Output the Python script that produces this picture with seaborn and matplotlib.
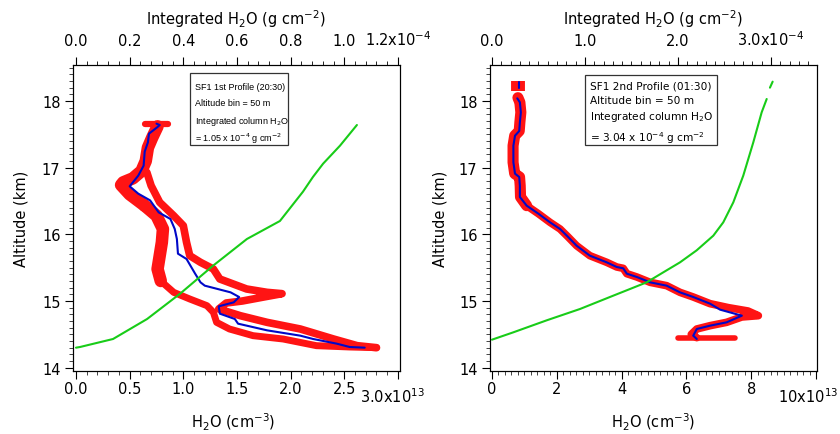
import numpy as np
import pandas as pd
import matplotlib
matplotlib.use("Agg")
import matplotlib.pyplot as plt
import seaborn as sns
from matplotlib.ticker import MultipleLocator
from matplotlib.patches import Rectangle

# ---------------- data (H2O in 1e13 cm^-3, integrated in 1e-4 g cm^-2, altitude in km) ----------------
# Profile 1 : binned mean (blue)
p1_blue_x = [0.75, 0.78, 0.76, 0.68, 0.67, 0.64, 0.63, 0.58, 0.52, 0.50, 0.58, 0.69, 0.77, 0.88, 0.92,
             0.94, 0.95, 1.03, 1.11, 1.16, 1.20, 1.44, 1.52, 1.47, 1.33, 1.34, 1.48, 1.51, 1.78, 2.09,
             2.21, 2.43, 2.55, 2.69]
p1_blue_alt = [17.66, 17.64, 17.61, 17.51, 17.38, 17.24, 17.03, 16.88, 16.76, 16.72, 16.61, 16.51, 16.33,
               16.23, 16.08, 15.93, 15.71, 15.63, 15.41, 15.28, 15.23, 15.13, 15.06, 14.98, 14.92, 14.81,
               14.73, 14.66, 14.56, 14.48, 14.43, 14.36, 14.31, 14.30]
# Profile 1 : raw measurements (red), read as traces
p1_red_top_x = [0.64, 0.86]
p1_red_top_alt = [17.66, 17.66]
p1_red_upper_x = [0.76, 0.71, 0.67, 0.65, 0.61, 0.53, 0.44, 0.42, 0.50, 0.64]
p1_red_upper_alt = [17.62, 17.45, 17.30, 17.10, 16.95, 16.84, 16.78, 16.74, 16.60, 16.43]
p1_red_left_x = [0.64, 0.75, 0.81, 0.80, 0.78, 0.76, 0.79]
p1_red_left_alt = [16.43, 16.28, 16.08, 15.88, 15.68, 15.48, 15.30]
p1_red_lower_x = [0.79, 0.91, 1.06, 1.22, 1.28, 1.31, 1.43, 1.65, 1.93, 2.24, 2.55, 2.80]
p1_red_lower_alt = [15.30, 15.13, 15.03, 14.93, 14.83, 14.68, 14.58, 14.48, 14.43, 14.33, 14.31, 14.30]
p1_red_right_x = [0.66, 0.70, 0.78, 0.91, 1.00, 1.03, 1.06, 1.16, 1.28, 1.34, 1.59, 1.78, 1.92, 1.75,
                  1.55, 1.40, 1.33, 1.53, 1.78, 2.09, 2.40, 2.62, 2.80]
p1_red_right_alt = [16.93, 16.73, 16.48, 16.28, 16.13, 15.88, 15.68, 15.58, 15.48, 15.33, 15.18, 15.13,
                    15.11, 15.06, 15.00, 14.97, 14.88, 14.78, 14.68, 14.58, 14.43, 14.33, 14.30]
# Profile 1 : integrated column (green, top axis)
p1_int_x = [0.0, 0.015, 0.138, 0.265, 0.388, 0.511, 0.637, 0.760, 0.846, 0.883, 0.921, 0.984, 1.047]
p1_int_alt = [14.30, 14.31, 14.43, 14.73, 15.11, 15.53, 15.93, 16.20, 16.64, 16.86, 17.06, 17.33, 17.64]

# Profile 2 : binned mean (blue)
p2_blue_top_x = [0.83, 0.83]
p2_blue_top_alt = [18.28, 18.20]
p2_blue_x = [0.78, 0.86, 0.89, 0.86, 0.84, 0.71, 0.66, 0.66, 0.71, 0.84, 0.86, 0.86, 1.07, 1.43, 1.79,
             2.10, 2.35, 2.61, 3.02, 3.54, 3.85, 4.05, 4.16, 4.47, 4.88, 5.39, 5.80, 6.21, 6.73, 7.04,
             7.71, 7.24, 6.73, 6.32, 6.21, 6.32]
p2_blue_alt = [18.04, 17.98, 17.83, 17.68, 17.55, 17.48, 17.33, 17.08, 16.91, 16.86, 16.73, 16.56, 16.43,
               16.31, 16.18, 16.08, 15.96, 15.83, 15.68, 15.58, 15.51, 15.49, 15.41, 15.36, 15.28, 15.23,
               15.13, 15.06, 14.96, 14.87, 14.78, 14.68, 14.63, 14.58, 14.48, 14.43]
# Profile 2 : raw measurements (red)
p2_red_top_x = [0.80, 0.80]
p2_red_top_alt = [18.30, 18.15]
p2_red_upper_x = [0.80, 0.86, 0.89, 0.86, 0.84, 0.70, 0.65, 0.65, 0.70, 0.85, 0.87, 0.88, 1.07]
p2_red_upper_alt = [18.05, 17.98, 17.83, 17.68, 17.55, 17.48, 17.33, 17.08, 16.91, 16.86, 16.73, 16.56,
                    16.43]
p2_red_lower_x = [1.07, 1.43, 1.79, 2.10, 2.35, 2.61, 3.02, 3.54, 3.85, 4.05, 4.16, 4.47, 4.88, 5.39,
                  5.80, 6.21, 6.73, 7.30, 7.90, 8.22, 7.71, 7.24, 6.73, 6.32, 6.15, 6.21, 6.32]
p2_red_lower_alt = [16.43, 16.31, 16.18, 16.08, 15.96, 15.83, 15.68, 15.58, 15.51, 15.49, 15.41, 15.36,
                    15.28, 15.23, 15.13, 15.06, 14.96, 14.90, 14.85, 14.78, 14.76, 14.68, 14.63, 14.58,
                    14.50, 14.48, 14.45]
p2_red_bot_x = [5.75, 7.50]
p2_red_bot_alt = [14.44, 14.44]
# Profile 2 : integrated column (green, top axis)
p2_int_x = [0.0, 0.229, 0.588, 0.946, 1.304, 1.484, 1.663, 1.842, 2.022, 2.201, 2.380, 2.487, 2.595,
            2.702, 2.810, 2.900, 2.954]
p2_int_alt = [14.42, 14.53, 14.71, 14.88, 15.08, 15.18, 15.28, 15.43, 15.58, 15.76, 15.98, 16.18, 16.48,
              16.88, 17.38, 17.83, 18.03]
p2_int_top_x = [2.989, 3.018]
p2_int_top_alt = [18.20, 18.29]

box1_lines = ["SF1 1st Profile (20:30)", "Altitude bin = 50 m", "Integrated column H$_2$O",
              "= 1.05 x 10$^{-4}$ g cm$^{-2}$"]
box2_lines = ["SF1 2nd Profile (01:30)", "Altitude bin = 50 m", "Integrated column H$_2$O",
              "= 3.04 x 10$^{-4}$ g cm$^{-2}$"]

# ---------------- styling ----------------
sns.set_theme(style="ticks")
plt.rcParams['font.family'] = ['DejaVu Sans']
plt.rcParams['mathtext.fontset'] = 'dejavusans'

RED = '#ff1414'
BLUE = '#0008c8'
GREEN = '#18cc18'
FS = 10.5

W, H = 840, 435
fig = plt.figure(figsize=(W / 100, H / 100), dpi=100)
fig.patch.set_facecolor('white')


def px_axes(x0, y0, x1, y1):
    return fig.add_axes([x0 / W, 1 - y1 / H, (x1 - x0) / W, (y1 - y0) / H])


axL = px_axes(73, 66, 400, 372)
axR = px_axes(490, 66, 817, 372)


def line(ax, x, y, color, lw, **kw):
    sns.lineplot(x=x, y=y, sort=False, estimator=None, color=color, linewidth=lw, ax=ax,
                 legend=False, **kw)


def red(ax, x, y, lw):
    line(ax, x, y, RED, lw, solid_capstyle='round', solid_joinstyle='round')


def style_main(ax):
    for s in ax.spines.values():
        s.set_visible(True)
        s.set_color('black')
        s.set_linewidth(0.8)
    ax.set_ylim(13.95, 18.54)
    ax.yaxis.set_major_locator(MultipleLocator(1))
    ax.yaxis.set_minor_locator(MultipleLocator(0.1))
    ax.tick_params(axis='both', which='major', direction='out', length=6, width=0.8,
                   labelsize=FS, colors='black')
    ax.tick_params(axis='both', which='minor', direction='out', length=3, width=0.6)
    ax.tick_params(axis='x', which='both', pad=1.5, top=False)
    ax.tick_params(axis='y', which='both', pad=3, right=False)
    ax.set_xlabel('')
    ax.set_ylabel('')
    ax.set_facecolor('white')


def style_top(tax):
    tax.tick_params(axis='x', which='both', top=True, labeltop=True, bottom=False, labelbottom=False,
                    direction='out', colors='black')
    tax.tick_params(axis='x', which='major', length=6, width=0.8, labelsize=FS, pad=6)
    tax.tick_params(axis='x', which='minor', length=3, width=0.6)
    tax.set_xlabel('')
    tax.set_ylabel('')
    for s in tax.spines.values():
        s.set_linewidth(0.8)
        s.set_color('black')


# ---------------- left panel ----------------
red(axL, p1_red_top_x, p1_red_top_alt, 4.5)
red(axL, p1_red_upper_x, p1_red_upper_alt, 9)
red(axL, p1_red_left_x, p1_red_left_alt, 9)
red(axL, p1_red_lower_x, p1_red_lower_alt, 5)
red(axL, p1_red_right_x, p1_red_right_alt, 5.5)
line(axL, p1_blue_x, p1_blue_alt, BLUE, 1.5)
axL.set_xlim(-0.028, 3.019)
axL.set_xticks([0, 0.5, 1.0, 1.5, 2.0, 2.5, 3.0])
axL.set_xticklabels(['0.0', '0.5', '1.0', '1.5', '2.0', '2.5', ''])
axL.xaxis.set_minor_locator(MultipleLocator(0.1))
style_main(axL)

topL = axL.twiny()
line(topL, p1_int_x, p1_int_alt, GREEN, 1.5)
topL.set_xlim(-0.028 * 0.4, 3.019 * 0.4)
topL.set_xticks([0, 0.2, 0.4, 0.6, 0.8, 1.0, 1.2])
topL.set_xticklabels(['0.0', '0.2', '0.4', '0.6', '0.8', '1.0', '1.2x10$^{-4}$'])
topL.xaxis.set_minor_locator(MultipleLocator(0.04))
topL.set_ylim(13.95, 18.54)
style_top(topL)

# ---------------- right panel ----------------
line(axR, p2_red_top_x, p2_red_top_alt, RED, 10, solid_capstyle='butt')
red(axR, p2_red_upper_x, p2_red_upper_alt, 8)
red(axR, p2_red_lower_x, p2_red_lower_alt, 5.5)
red(axR, p2_red_bot_x, p2_red_bot_alt, 4)
line(axR, p2_blue_top_x, p2_blue_top_alt, BLUE, 1.5)
line(axR, p2_blue_x, p2_blue_alt, BLUE, 1.5)
axR.set_xlim(-0.062, 10.03)
axR.set_xticks([0, 2, 4, 6, 8, 10])
axR.set_xticklabels(['0', '2', '4', '6', '8', ''])
axR.xaxis.set_minor_locator(MultipleLocator(0.2))
style_main(axR)

topR = axR.twiny()
line(topR, p2_int_x, p2_int_alt, GREEN, 1.5)
line(topR, p2_int_top_x, p2_int_top_alt, GREEN, 1.5)
topR.set_xlim(-0.0215, 3.495)
topR.set_xticks([0, 1, 2, 3])
topR.set_xticklabels(['0.0', '1.0', '2.0', '3.0x10$^{-4}$'])
topR.xaxis.set_minor_locator(MultipleLocator(0.1))
topR.set_ylim(13.95, 18.54)
style_top(topR)

# ---------------- text boxes ----------------
def text_box(ax, x0, x1, ytop, ybot, tx, ys, lines, fam, fs):
    ax.add_patch(Rectangle((x0, ybot), x1 - x0, ytop - ybot, transform=ax.transAxes,
                           facecolor='white', edgecolor='#333333', linewidth=0.9, zorder=5))
    for yy, t in zip(ys, lines):
        ax.text(tx, yy, t, transform=ax.transAxes, ha='left', va='center', fontsize=fs,
                family=fam, color='black', zorder=6)


text_box(axL, 0.358, 0.657, 0.974, 0.739, 0.373, [0.931, 0.876, 0.820, 0.762], box1_lines,
         ['Liberation Sans', 'DejaVu Sans'], 6.5)
text_box(axR, 0.291, 0.694, 0.967, 0.739, 0.306, [0.934, 0.884, 0.833, 0.765], box2_lines,
         ['DejaVu Sans'], 7.6)

# ---------------- axis titles ----------------
def ftext(xp, yp, s, **kw):
    fig.text(xp / W, 1 - yp / H, s, fontsize=FS, color='black', **kw)


ftext(236, 19, 'Integrated H$_2$O (g cm$^{-2}$)', ha='center', va='center')
ftext(653, 19, 'Integrated H$_2$O (g cm$^{-2}$)', ha='center', va='center')
ftext(233, 422, 'H$_2$O (cm$^{-3}$)', ha='center', va='center')
ftext(653, 422, 'H$_2$O (cm$^{-3}$)', ha='center', va='center')
ftext(21, 219, 'Altitude (km)', ha='center', va='center', rotation=90)
ftext(440, 219, 'Altitude (km)', ha='center', va='center', rotation=90)
ftext(392, 397, '3.0x10$^{13}$', ha='center', va='center')
ftext(808, 397, '10x10$^{13}$', ha='center', va='center')

fig.savefig('out.png', dpi=100, facecolor='white')
